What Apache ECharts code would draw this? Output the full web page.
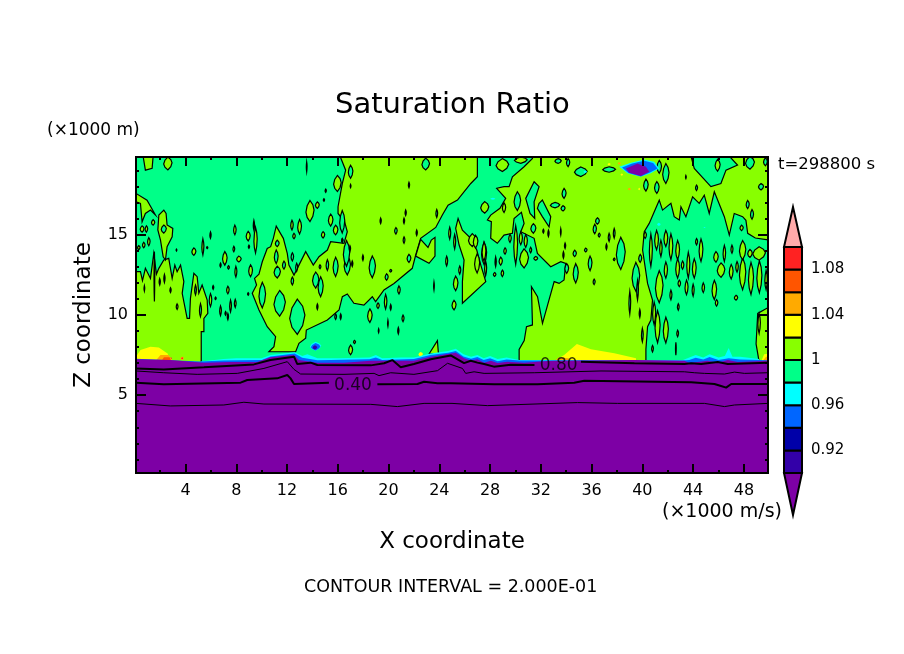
<!DOCTYPE html>
<html lang="en">
<head>
<meta charset="UTF-8">
<title>Saturation Ratio</title>
<style>
  * { margin: 0; padding: 0; }
  body { background: #fff; }
  #chart { width: 904px; height: 654px; }
</style>
</head>
<body>
<div id="chart"></div>
<script src="https://cdn.jsdelivr.net/npm/echarts@6/dist/echarts.min.js"></script>
<script>
// tick values
var xMajor = [4, 8, 12, 16, 20, 24, 28, 32, 36, 40, 44, 48];
var xMinor = [2, 6, 10, 14, 18, 22, 26, 30, 34, 38, 42, 46];
var zMajor = [5, 10, 15];
var zMinor = [1, 2, 3, 4, 6, 7, 8, 9, 11, 12, 13, 14, 16, 17, 18, 19];
var barTicks = ['0.92', '0.96', '1.00', '1.04', '1.08'];

// colour levels, low to high, edges below
var barEdges = [0.90, 0.92, 0.94, 0.96, 0.98, 1.00, 1.02, 1.04, 1.06, 1.08, 1.10];
var barColors = ['#3300a8', '#0000a8', '#0066ff', '#00ffff', '#00ff88', '#88ff00', '#ffff00', '#ffaa00', '#ff5500', '#ff2222'];
var purple = '#7d00a5', pink = '#ffaaaa';

// regions of 1 < S < 1.02, outlines in km
var limeLeft = [[0.1,12.7],[0.45,12.7],[0.61,12.14],[0.84,12.91],[1.24,12.28],[1.5,13.84],[1.71,12.55],[1.9,12.91],[2.29,13.43],[2.68,13.53],[2.95,12.28],[3.16,13.11],[3.34,12.7],[3.61,13.11],[3.87,12.08],[3.74,11.35],[4.13,9.79],[4.32,9.79],[4.39,11.04],[4.66,12.6],[4.92,12.39],[5.05,11.35],[5.31,11.87],[5.71,10.93],[5.76,10.1],[5.45,9.79],[5.45,8.96],[5.24,8.96],[5.24,7.0],[0.1,7.0]];
var limeUpperLeft = [[0.1,17.58],[0.97,17.16],[1.63,16.23],[1.24,16.54],[0.84,16.33],[0.58,15.81],[0.45,16.96],[0.1,17.06]];
var limeColumn = [[2.29,16.54],[2.47,16.33],[2.55,15.61],[3.0,15.4],[2.95,14.88],[2.55,14.26],[2.42,13.43],[2.24,13.63],[2.03,14.67],[1.82,15.3],[1.9,16.23]];
var limeTopA = [[0.66,19.9],[1.45,19.9],[1.37,19.14],[0.84,19.03]];
var limeCentre = [[16.18,19.9],[16.62,19.03],[16.36,18.2],[16.02,16.75],[16.02,16.33],[16.54,15.81],[16.75,15.19],[16.49,14.46],[15.44,14.57],[15.18,14.05],[14.52,13.63],[14.07,13.11],[13.47,13.95],[12.94,13.11],[12.55,12.49],[12.15,13.11],[12.02,13.84],[11.71,14.78],[11.15,15.54],[10.92,14.78],[10.71,14.26],[10.44,14.15],[10.05,13.32],[9.79,12.55],[9.44,12.28],[9.6,11.87],[9.26,11.35],[9.79,10.31],[10.44,9.27],[11.1,8.65],[10.97,8.03],[10.57,7.71],[12.68,7.71],[12.94,8.23],[13.47,8.55],[13.52,9.06],[15.18,9.69],[16.1,10.31],[16.36,11.14],[16.75,11.31],[17.27,10.73],[18.06,10.62],[18.72,11.14],[18.98,10.83],[19.64,11.56],[20.43,11.97],[20.9,12.28],[21.87,12.91],[22.14,13.74],[22.53,14.78],[23.72,15.46],[24.24,16.23],[24.69,16.85],[25.43,17.16],[26.48,18.2],[27,18.62],[27,19.9]];
var limeNose = [[22.53,14.71],[23.11,14.21],[23.37,14.67],[23.66,14.84],[23.66,13.67],[23.19,13.22],[22.14,13.67]];
var limeWedge = [[23.19,7.57],[23.85,8.4],[23.93,7.61]];
var limeFinger = [[25.82,10.73],[27.66,12.08],[27.27,13.11],[26.95,14.05],[26.48,14.78],[25.82,15.29],[25.48,16.02],[25.29,15.4],[25.56,14.36],[25.95,13.43],[25.82,12.08]];
var limeRight = [[31.34,19.9],[50,19.9],[50,7.0],[30.29,7.0],[30.29,7.86],[30.69,8.4],[30.87,9.27],[31.34,9.38],[31.26,11.76],[31.74,11.14],[32.13,9.48],[32.53,10.62],[33.05,12.08],[33.44,11.97],[33.83,12.18],[33.96,13.22],[33.57,13.32],[32.78,13.01],[31.73,13.84],[31.47,14.78],[30.42,15.19],[30.68,15.71],[30.47,16.4],[29.89,16.02],[29.76,15.09],[29.1,14.98],[28.57,14.47],[28.05,14.78],[28.1,15.82],[27.79,15.92],[28.05,16.23],[28.78,16.65],[29.23,17.27],[28.52,17.9],[29.1,18],[29.5,18],[29.76,18.62],[30.68,19.24],[31.34,19.76]];

// regions of 0.98 < S < 1 drawn over the lime
var greenRight = [[40.28,7.0],[40.28,7.86],[40.41,9.27],[40.67,9.69],[40.8,10.93],[40.41,11.97],[40.02,14.05],[40.15,15.19],[40.54,15.71],[41.33,17.16],[41.59,16.54],[42.25,16.96],[42.51,16.13],[42.91,15.92],[43.04,16.75],[43.43,16.13],[43.96,17.37],[44.48,16.96],[44.88,17.47],[45.27,16.33],[45.67,17.68],[46.46,16.13],[46.85,14.98],[47.24,16.33],[47.9,16.13],[48.16,15.9],[48.3,15.09],[48.9,14.8],[50,14.67],[50,10.5],[49.09,10.1],[48.96,8.2],[49.22,7.0]];
var greenTopRight = [[43.83,19.9],[44.09,19.14],[45.4,18],[46.19,18.2],[46.59,19.03],[47.5,19.35],[46.85,19.9]];
var greenTall = [[31.47,18.31],[31.86,18],[31.47,17.06],[31.52,16.02],[31.15,16.33],[30.81,17.27]];
var greenSlant = [[31.86,16.96],[32.12,17.17],[32.78,16.13],[32.65,15.5],[32.12,16.13],[31.73,16.65]];

// small closed contours, [x, z, half width, half height] in km
var limeBlobs = [
  [2.61,19.45,.33,.4],[.58,15.36,.15,.2],[.92,15.36,.1,.2],[1.45,15.77,.13,.17],[.71,14.36,.1,.17],[1.11,14.57,.1,.25],[.32,14.2,.1,.12],
  [4.66,13.95,.16,.23],[5.37,14.25,.08,.5],[5.97,14.98,.05,.2],[5.71,14.2,.05,.06],[7.81,14.11,.07,.17],[7.89,15.3,.1,.3],[7.1,13.53,.18,.42],
  [7.39,12.97,.07,.1],[6.76,13.11,.05,.13],[8.21,13.49,.18,.18],[7.97,12.7,.08,.33],[8.94,14.92,.16,.3],[9,14.26,.05,.1],[9.52,14.67,.13,.8],
  [9.13,12.76,.15,.37],[7.34,11.56,.1,.23],[6.18,11.72,.05,.12],[5.97,10.93,.1,.4],[6.37,11.04,.05,.08],[6.76,10.27,.07,.3],[7.55,10.56,.07,.37],
  [7.92,10.72,.07,.25],[7.16,10.1,.05,.12],[7.34,9.9,.05,.2],[3.34,10.52,.07,.17],[8.94,11.31,.05,.08],[3.29,14.05,.03,.06],[9.39,15.6,.05,.3],
  [15.97,18.2,.3,.5],[15.05,17.75,.05,.1],[14.39,16.85,.15,.2],[14.91,17.17,.05,.08],[13.81,16.48,.32,.66],[12.39,15.6,.1,.3],[12.99,15.5,.15,.45],
  [13.55,19.24,.03,.3],[14.84,15,.13,.2],[15.44,15.92,.18,.37],[15.83,15.3,.18,.3],[12.55,14.92,.1,.17],[16.36,14.67,.05,.1],
  [18.53,9.96,.18,.42],[19.17,10.58,.1,.17],[19.77,10.83,.1,.45],[20.17,10.48,.05,.17],[20.82,11.56,.1,.25],[21.14,9.79,.08,.2],[19.95,9.48,.03,.2],
  [20.77,9.02,.05,.2],[19.22,9.02,.03,.12],[17.32,8.32,.08,.1],[17.01,7.82,.16,.3],[23.58,11.81,.03,.25],[24.58,13.36,.08,.3],[25.29,11.97,.18,.45],
  [25.16,10.62,.16,.3],[25.61,12.8,.08,.25],[25.21,14.57,.08,.45],[24.82,15.1,.08,.37],[26.6,14.67,.3,.4],[27.53,13.84,.2,.7],[27.58,16.71,.32,.36],
  [29.1,16.69,.13,.3],[28.97,19.35,.5,.4],[30.42,19.66,.5,.2],[26.86,14.57,.18,.4],[27.52,13.95,.15,.6],[29.18,13.99,.1,.2],[28.84,13.36,.13,.25],
  [28.44,13.32,.05,.3],[29.57,14.78,.1,.25],[30.42,14.78,.13,.4],[30.81,14.61,.13,.4],[31.2,14.05,.08,.17],[30.68,13.53,.35,.6],[31.6,13.53,.15,.12],
  [30.02,14.36,.15,1.2],[28.97,12.6,.1,.2],[28.36,12.53,.1,.12],[27.65,12.9,.08,.45],[26.98,13.22,.2,.6],[45.93,19.34,.2,.37],
  [40.22,14.98,.1,.2],[40.67,14.04,.12,1],[41.12,14.67,.15,.6],[41.46,14.15,.1,.5],[41.85,14.77,.15,.5],[42.25,14.25,.15,.8],[42.78,14.04,.15,.6],
  [43.17,13.11,.1,.25],[43.62,13.11,.12,.8],[41.33,11.76,.3,1],[41.85,12.8,.13,.5],[42.25,11.25,.08,.3],[42.78,12.9,.15,.6],[42.91,11.97,.1,.2],
  [43.48,11.72,.12,.45],[44,11.55,.08,.37],[44.8,11.7,.1,.3],[44.09,12.9,.15,.6],[44.62,14.04,.15,.7],[44.27,14.57,.08,.2],[45.8,13.62,.18,.33],
  [46.46,13.84,.1,.5],[47.06,14.1,.08,.25],[46.2,12.8,.3,.45],[45.67,11.56,.18,.6],[45.85,10.76,.1,.2],[47,12.7,.15,.45],[47.46,13,.1,.33],
  [47.9,12.58,.25,1],[48.56,12.28,.2,1],[49.22,12.38,.2,1],[47.9,14.04,.25,.6],[48.48,13.84,.18,.25],[47.82,15.43,.13,.17],[49.75,12.18,.1,.6],
  [49.2,13.84,.5,.42],[47.38,11.08,.13,.15],[49.2,9.47,.1,.62],[41.85,9.06,.2,.8],[41.2,9.27,.2,1],[42.78,8.85,.07,.2],[42.64,7.9,.03,.4],
  [40.8,7.9,.07,.2],[40.93,10.1,.12,.7],[42.83,10.5,.07,.2]
];
var greenBlobs = [
  [2.29,15.36,.2,.25],[1.55,12.4,.03,1.55],[1.97,12.07,.05,.2],[.76,11.66,.03,.17],[2.34,12.28,.05,.25],[2.82,11.55,.05,.15],[4.79,11.56,.07,.3],[5.18,10.3,.08,.4],
  [10.05,11.24,.26,.8],[11.42,10.73,.45,.8],[12.81,9.89,.6,1.1],[11.15,13.63,.15,.42],[11.23,14.46,.15,.2],[11.76,13.11,.12,.25],[11.23,12.68,.25,.37],
  [12.42,13.63,.1,.25],[12.76,12.97,.08,.25],[12.42,12.12,.1,.25],[14.6,13.01,.07,.12],[15.18,13.11,.1,.33],[14.26,12.18,.25,.5],[14.65,11.76,.2,.62],
  [15.83,13,.2,.6],[16.75,13.1,.25,.6],[14.39,10.52,.05,.17],[15.83,9.9,.07,.17],[16.23,9.9,.05,.17],
  [17.01,18.93,.18,.4],[17.01,18.04,.03,.1],[16.35,15.81,.2,.7],[16.69,13.84,.25,.8],[17.14,13.2,.05,.17],[16.96,14.15,.05,.17],[17.98,13.57,.05,.17],
  [18.72,13,.25,.68],[19.85,12.37,.12,.2],[20.17,12.76,.08,.08],[21.61,13.53,.15,.25],[21.22,14.67,.07,.2],[20.58,15.25,.1,.2],[21.22,15.87,.05,.17],
  [21.35,16.37,.05,.17],[19.38,15.87,.05,.17],[22.22,15.13,.05,.17],[23.8,16.33,.07,.25],[21.61,18.1,.05,.17],[22.93,19.41,.3,.37],[16.35,14.63,.05,.12],
  [30.15,17.1,.26,.58],[33.12,16.85,.37,.17],[33.75,16.65,.16,.17],[33.83,17.58,.16,.31],[31.41,15.4,.2,.3],[32.2,15.23,.05,.12],[32.6,15.09,.05,.2],
  [33.57,15.19,.03,.2],[33.91,14.32,.05,.17],[33.78,13.74,.05,.2],[34.67,13.84,.13,.2],[34.75,12.6,.2,.6],[34.04,12.9,.15,.3],[35.88,13.22,.15,.45],
  [35.54,14.05,.1,.12],[36.25,15.36,.13,.3],[36.46,15.86,.15,.2],[36.6,14.98,.08,.12],[35.15,18.93,.5,.3],[33.36,19.6,.25,.15],[34.15,19.5,.13,.25],
  [37.38,19.07,.5,.17],[36.2,12.07,.08,.17],[38.3,13.84,.35,1],[37.78,15.09,.07,.3],
  [37.38,14.84,.07,.25],[37.17,14.25,.05,.17],[37.78,13.47,.07,.08],[39.49,12.38,.3,.9],[39.62,11.55,.07,.6],
  [39.01,10.77,.07,.7],[39.8,10.1,.05,.25],[40,8.75,.07,.42],[39.83,13.53,.12,.25],[40.28,18.1,.18,.37],[41.14,17.95,.18,.37],[41.85,18.82,.25,.62],
  [41.33,19.24,.18,.4],[43.43,18.6,.03,.1],[44.27,17.93,.08,.17],[48.48,19.49,.35,.4],[49.35,18,.2,.2],[49.7,19.55,.15,.25],[48.3,16.89,.12,.25],[48.64,16.27,.12,.3]
];

// dry patch near the top, outer level first
var dryOuter = [[38.17,19.24],[39.09,19.49],[40.14,19.7],[40.93,19.55],[41.33,19.14],[40.67,18.83],[39.88,18.62],[38.83,18.83]];
var dryBlue = [[38.4,19.2],[39.2,19.44],[40.14,19.62],[40.85,19.48],[41.2,19.14],[40.6,18.88],[39.88,18.64],[38.9,18.86]];
var dryCore = [[38.7,19.14],[39.62,19.45],[40.28,19.24],[40.54,18.93],[39.88,18.66],[38.96,18.87]];
var drySpots = [
  ['#00ffff',14.25,8.05,.45,.28],['#0066ff',14.25,8.02,.38,.23],['#3300a8',14.2,7.98,.18,.13],
  ['#00ffff',35.5,18.93,.14,.08],['#00ffff',41.3,15.65,.14,.1],['#00ffff',44.9,15.45,.08,.03],['#00ffff',28.22,17.25,.2,.06]
];
// wet specks and mounds above the layer top
var wetSpecks = [
  ['#ffff00',37.38,19.4,.12,.08],['#ffaa00',38.18,19.45,.12,.07],['#ffff00',38.38,18.75,.1,.07],['#ffaa00',38.97,17.85,.12,.08],['#ffff00',39.75,17.85,.08,.08],
  ['#ffaa00',3.74,7.3,.14,.12],['#ff2222',3.74,7.3,.07,.06],['#ffff00',22.53,7.55,.18,.15],['#ff2222',2.85,7.3,.08,.06]
];
var yellowLeft = [[0.1,7.0],[0.1,7.4],[0.45,7.82],[1.24,8.02],[1.9,7.98],[2.55,7.61],[3.08,7.0]];
var orangeLeft = [[1.5,7.0],[2.03,7.5],[2.68,7.5],[3.08,7.0]];
var redLeft = [[2.0,7.0],[2.3,7.36],[2.75,7.36],[2.95,7.0]];
var yellowMid = [[32.79,7.0],[33.84,7.5],[34.84,8.19],[35.95,7.86],[37.79,7.61],[39.5,7.3],[39.5,7.0]];
var orangeMid = [[32.9,7.0],[33.4,7.35],[34.2,7.3],[34.4,7.0]];
var yellowEnd = [[49.3,7.0],[49.6,7.55],[50,7.6],[50,7.0]];
var orangeEnd = [[49.35,7.0],[49.75,7.4],[50,7.4],[50,7.0]];

// top of the dry layer
var cyanTop = [[5.2,7.1],[7,7.25],[8,7.3],[10,7.3],[10.7,7.5],[12.6,7.68],[13.2,7.45],[13.6,7.55],[14.4,7.3],[16,7.3],[18.5,7.35],[19,7.5],[19.5,7.3],[21,7.35],[22,7.35],[23.3,7.6],[24.7,7.75],[25.3,7.9],[25.9,7.55],[26.5,7.4],[27,7.5],[27.5,7.3],[28,7.45],[28.6,7.25],[29.3,7.35],[30.3,7.2],[43.2,7.2],[43.7,7.35],[44.2,7.5],[44.8,7.35],[45.3,7.55],[46,7.35],[46.5,7.45],[46.8,7.95],[47.1,7.4],[47.7,7.4],[49.2,7.25],[49.2,7],[5.2,7]];
var blueTop = [[0.1,7.28],[5.2,7.1],[7,7.17],[10,7.2],[10.7,7.42],[12.6,7.6],[13.2,7.33],[14.4,7.18],[18.5,7.24],[19,7.35],[19.5,7.2],[22,7.25],[23.3,7.5],[24.7,7.65],[25.3,7.75],[25.9,7.42],[26.5,7.28],[27,7.38],[27.5,7.2],[28,7.3],[28.6,7.12],[29.3,7.22],[30.3,7.17],[43.2,7.17],[43.7,7.2],[44.2,7.33],[44.8,7.22],[45.3,7.38],[46,7.2],[46.8,7.3],[47.7,7.22],[50,7.17],[50,7],[0.1,7]];
var purpleTop = [[0.1,7.24],[2.8,7.19],[5.45,7.03],[7.55,7.07],[9.65,7.07],[10.7,7.36],[12.55,7.5],[12.94,7.19],[14.39,7.03],[16.49,7.03],[18.6,7.15],[20.44,7.15],[22,7.15],[23.33,7.4],[24.65,7.57],[25.3,7.65],[25.95,7.3],[26.48,7.15],[27,7.24],[27.53,7.03],[28.06,7.15],[28.58,7],[29.37,7.09],[30.69,7.03],[32.79,7.15],[39.37,7.19],[43.31,7.15],[43.7,7],[45.15,7.15],[45.94,7.03],[46.73,7.19],[47.52,7.07],[50,7.15],[50,0],[0,0],[0,7.24]];

// labelled contours
var contour80a = [[0.1,6.67],[2.29,6.61],[5.45,6.74],[9.39,6.92],[10.7,7.19],[12.55,7.4],[12.81,6.94],[13.86,7.03],[14.39,6.88],[18.6,6.86],[19.65,6.99],[20.3,7.19],[20.96,6.74],[22,6.94],[23.33,7.24],[24.9,7.48],[25.95,7],[26.48,7.15],[27,7.03],[27.53,6.94],[28.3,6.78],[29.63,6.9],[31.5,6.88]];
var contour80b = [[35.16,7.09],[39.37,6.99],[43.31,6.94],[43.84,6.99],[44.63,6.94],[45.94,7.07],[46.73,6.94],[49.9,7.03]];
var contour60 = [[0.1,6.51],[2.29,6.4],[4.92,6.3],[8.08,6.36],[10.18,6.67],[12.02,7.09],[12.55,6.61],[13.07,6.32],[16.49,6.3],[18.86,6.36],[19.25,6.22],[20.17,6.4],[22,6.3],[23.86,6.53],[24.65,6.99],[25.82,6.67],[26.08,6.36],[26.74,6.46],[27.53,6.36],[31.48,6.4],[36.74,6.51],[43.31,6.46],[44.1,6.4],[44.89,6.36],[46.47,6.32],[47.26,6.44],[48.04,6.36],[49.9,6.4]];
var contour40a = [[0.1,5.78],[2.29,5.68],[8.34,5.78],[8.87,5.95],[11.23,6.05],[12.02,6.26],[12.28,6.05],[12.55,5.7],[15.3,5.78]];
var contour40b = [[19.12,5.68],[22.28,5.7],[22.8,5.84],[23.86,5.74],[24.9,5.74],[28.32,5.68],[31.74,5.68],[34.63,5.78],[35.42,5.9],[43.84,5.8],[45.68,5.7],[46.2,5.57],[46.6,5.47],[47,5.7],[49.9,5.7]];
var contour20 = [[0.1,4.49],[2.8,4.33],[7.02,4.39],[8.6,4.56],[10.18,4.45],[18.6,4.43],[20.7,4.29],[22.8,4.49],[25,4.49],[27.79,4.35],[34.89,4.54],[38.05,4.49],[44.89,4.49],[46.47,4.29],[47.26,4.39],[49.9,4.49]];
var contourLabels = [[17.2,5.6,'0.40'],[33.4,6.85,'0.80']];

var font = '"DejaVu Sans", sans-serif';
var myChart = echarts.init(document.getElementById('chart'), null, { renderer: 'canvas' });

// paint order: everything later covers what is under it
var regions = [];
function addPoly(pts, fill, outline) { regions.push({ pts: pts, fill: fill, outline: outline }); }
// a small contour is narrow and pointed, not a round ellipse
function addBlob(b, fill, outline) {
  var x = b[0], z = b[1], w = b[2], h = b[3];
  addPoly([[x, z + h], [x + .7 * w, z + .6 * h], [x + w, z + .1 * h], [x + .7 * w, z - .5 * h], [x, z - h], [x - .7 * w, z - .6 * h], [x - w, z - .1 * h], [x - .7 * w, z + .5 * h]], fill, outline);
}
var green = barColors[4], lime = barColors[5];
addPoly([[0, 0], [50, 0], [50, 20], [0, 20]], green, false);
[limeLeft, limeUpperLeft, limeColumn, limeTopA, limeCentre, limeNose, limeWedge, limeFinger, limeRight].forEach(function (p) { addPoly(p, lime, true); });
[greenRight, greenTopRight, greenTall, greenSlant].forEach(function (p) { addPoly(p, green, true); });
greenBlobs.forEach(function (b) { addBlob(b, green, true); });
limeBlobs.forEach(function (b) { addBlob(b, lime, true); });
addPoly(dryOuter, '#00ffff', false);
addPoly(dryBlue, '#0066ff', false);
addPoly(dryCore, purple, false);
drySpots.forEach(function (b) { addBlob(b.slice(1), b[0], false); });
wetSpecks.forEach(function (b) { addBlob(b.slice(1), b[0], false); });
[[yellowLeft, '#ffff00'], [orangeLeft, '#ffaa00'], [redLeft, '#ff5500'], [yellowMid, '#ffff00'], [orangeMid, '#ffaa00'], [yellowEnd, '#ffff00'], [orangeEnd, '#ffaa00'], [cyanTop, '#00ffff'], [blueTop, '#0066ff'], [purpleTop, purple]].forEach(function (p) { addPoly(p[0], p[1], false); });

function renderRegion(params, api) {
  var r = regions[params.dataIndex];
  return {
    type: 'polygon',
    shape: { points: r.pts.map(function (p) { return api.coord(p); }) },
    style: { fill: r.fill, stroke: r.outline ? '#000' : null, lineWidth: r.outline ? 1.2 : 0 }
  };
}

// colour bar bands and its two end arrows, in bar units
var barCells = barColors.map(function (c, i) { return [barEdges[i], barEdges[i + 1], c]; });
function renderBand(params, api) {
  var c = barCells[params.dataIndex];
  var a = api.coord([0, c[0]]), b = api.coord([1, c[1]]);
  return {
    type: 'rect',
    shape: { x: a[0], y: b[1], width: b[0] - a[0], height: a[1] - b[1] },
    style: { fill: c[2], stroke: '#000', lineWidth: 2 }
  };
}
var barArrows = [[1.10, 1.1354, pink], [0.90, 0.8628, purple]];
function renderArrow(params, api) {
  var c = barArrows[params.dataIndex];
  return {
    type: 'polygon',
    shape: { points: [api.coord([0, c[0]]), api.coord([1, c[0]]), api.coord([0.5, c[1]])] },
    style: { fill: c[2], stroke: '#000', lineWidth: 2 }
  };
}

function xAxisFor(position, values, len, labels, name) {
  return {
    type: 'value', gridIndex: 0, position: position, min: 0.1, max: 49.9, z: 6,
    splitLine: { show: false },
    axisLine: { show: true, lineStyle: { color: '#000', width: 2 } },
    axisTick: { inside: true, length: len, customValues: values, lineStyle: { color: '#000', width: 2 } },
    axisLabel: { show: labels, customValues: values, color: '#000', fontFamily: font, fontSize: 16, margin: 10 },
    name: name, nameLocation: 'middle', nameGap: 58, nameTextStyle: { color: '#000', fontFamily: font, fontSize: 23 }
  };
}
function zAxisFor(position, values, len, labels, name) {
  return {
    type: 'value', gridIndex: 0, position: position, min: 0.15, max: 19.85, z: 6,
    splitLine: { show: false },
    axisLine: { show: true, lineStyle: { color: '#000', width: 2 } },
    axisTick: { inside: true, length: len, customValues: values, lineStyle: { color: '#000', width: 2 } },
    axisLabel: { show: labels, customValues: values, color: '#000', fontFamily: font, fontSize: 16, margin: 8 },
    name: name, nameLocation: 'middle', nameGap: 40, nameTextStyle: { color: '#000', fontFamily: font, fontSize: 23 }
  };
}

function contourLine(pts, width) {
  return {
    type: 'line', data: pts, showSymbol: false, silent: true, z: 4, clip: true,
    lineStyle: { color: '#000', width: width }
  };
}
function noteText(text, x, y, size) {
  return { type: 'text', left: x, top: y, style: { text: text, fill: '#000', font: size + 'px ' + font } };
}

var option = {
  animation: false,
  backgroundColor: '#fff',
  grid: [
    { left: 136, top: 157, width: 632, height: 316 },
    { left: 784, top: 247, width: 18, height: 226 }
  ],
  xAxis: [
    xAxisFor('bottom', xMajor, 9, true, 'X coordinate'),
    xAxisFor('bottom', xMinor, 3, false),
    xAxisFor('top', xMajor, 9, false),
    xAxisFor('top', xMinor, 3, false),
    { type: 'value', gridIndex: 1, min: 0, max: 1, show: false }
  ],
  yAxis: [
    zAxisFor('left', zMajor, 10, true, 'Z coordinate'),
    zAxisFor('left', zMinor, 3, false),
    zAxisFor('right', zMajor, 10, false),
    zAxisFor('right', zMinor, 3, false),
    {
      type: 'value', gridIndex: 1, position: 'right', min: 0.9, max: 1.1, interval: 0.02,
      splitLine: { show: false }, axisLine: { show: false }, axisTick: { show: false },
      axisLabel: {
        color: '#000', fontFamily: font, fontSize: 15, margin: 9, padding: [4, 0, 0, 0],
        formatter: function (v) {
          var s = v.toFixed(2);
          if (barTicks.indexOf(s) < 0) return '';
          return s === '1.00' ? '1' : s;
        }
      }
    }
  ],
  series: [
    {
      type: 'custom', name: 'regions', xAxisIndex: 0, yAxisIndex: 0, silent: true, clip: true, z: 2,
      data: regions.map(function (r, i) { return [i]; }),
      renderItem: renderRegion
    },
    contourLine(contour80a, 2),
    contourLine(contour80b, 2),
    contourLine(contour60, 1),
    contourLine(contour40a, 2),
    contourLine(contour40b, 2),
    contourLine(contour20, 1),
    {
      type: 'scatter', symbolSize: 0, silent: true, z: 5,
      data: contourLabels.map(function (l) { return [l[0], l[1]]; }),
      label: {
        show: true, position: 'inside', color: '#000', fontFamily: font, fontSize: 17,
        formatter: function (p) { return contourLabels[p.dataIndex][2]; }
      }
    },
    {
      type: 'custom', xAxisIndex: 4, yAxisIndex: 4, silent: true, z: 3,
      data: barCells.map(function (c, i) { return [i]; }),
      renderItem: renderBand
    },
    {
      type: 'custom', xAxisIndex: 4, yAxisIndex: 4, silent: true, z: 3,
      data: barArrows.map(function (c, i) { return [i]; }),
      renderItem: renderArrow
    }
  ],
  graphic: [
    noteText('Saturation Ratio', 335, 91, 29),
    noteText('(\u00d71000 m)', 47, 122, 17),
    noteText('t=298800 s', 778, 156, 16.5),
    noteText('(\u00d71000 m/s)', 662, 503, 19),
    noteText('CONTOUR INTERVAL = 2.000E-01', 304, 578, 17.5)
  ]
};
myChart.setOption(option);
window.addEventListener('resize', myChart.resize);
</script>
</body>
</html>
